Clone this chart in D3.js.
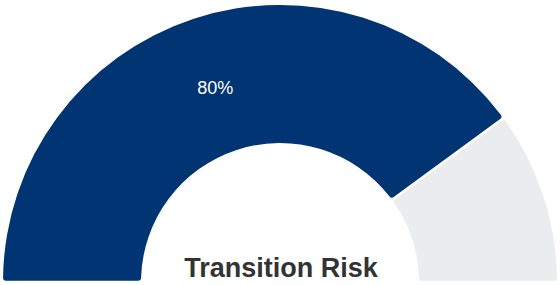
<!DOCTYPE html>
<html>
<head>
<meta charset="utf-8">
<script src="https://cdn.jsdelivr.net/npm/d3@7"></script>
<style>
  body { margin: 0; background: #fff; }
  svg { display: block; }
</style>
</head>
<body>
<div id="chart"></div>
<script>
const WIDTH = 560;
const HEIGHT = 285;
const CX = 280;
const CY = 282;
const OUTER_R = 277;
const INNER_R = 139;

const categories = ["Risk", "Remaining"];
const values = [80, 20];
const colors = ["#003473", "#ebeced"];
const title = "Transition Risk";

const svg = d3.select("#chart")
  .append("svg")
  .attr("width", WIDTH)
  .attr("height", HEIGHT);

const g = svg.append("g")
  .attr("transform", `translate(${CX},${CY})`);

const pie = d3.pie()
  .sort(null)
  .value(d => d)
  .startAngle(-Math.PI / 2)
  .endAngle(Math.PI / 2)
  .padAngle(0.008);

const arc = d3.arc()
  .innerRadius(INNER_R)
  .outerRadius(OUTER_R)
  .cornerRadius(3);

const arcs = pie(values);

g.selectAll("path")
  .data(arcs)
  .join("path")
  .attr("d", arc)
  .attr("fill", (d, i) => colors[i]);

// percent label on the first slice
const total = d3.sum(values);
const c = arc.centroid(arcs[0]);
g.append("text")
  .attr("x", c[0])
  .attr("y", c[1] + 5)
  .attr("text-anchor", "middle")
  .attr("dominant-baseline", "middle")
  .attr("fill", "#fff")
  .attr("font-family", "Liberation Sans, Arial, sans-serif")
  .attr("font-size", "18px")
  .text(Math.round(values[0] / total * 100) + "%");

svg.append("text")
  .attr("x", CX + 1)
  .attr("y", 277)
  .attr("text-anchor", "middle")
  .attr("fill", "#333")
  .attr("font-family", "Liberation Sans, Arial, sans-serif")
  .attr("font-weight", "bold")
  .attr("font-size", "27px")
  .text(title);
</script>
</body>
</html>
